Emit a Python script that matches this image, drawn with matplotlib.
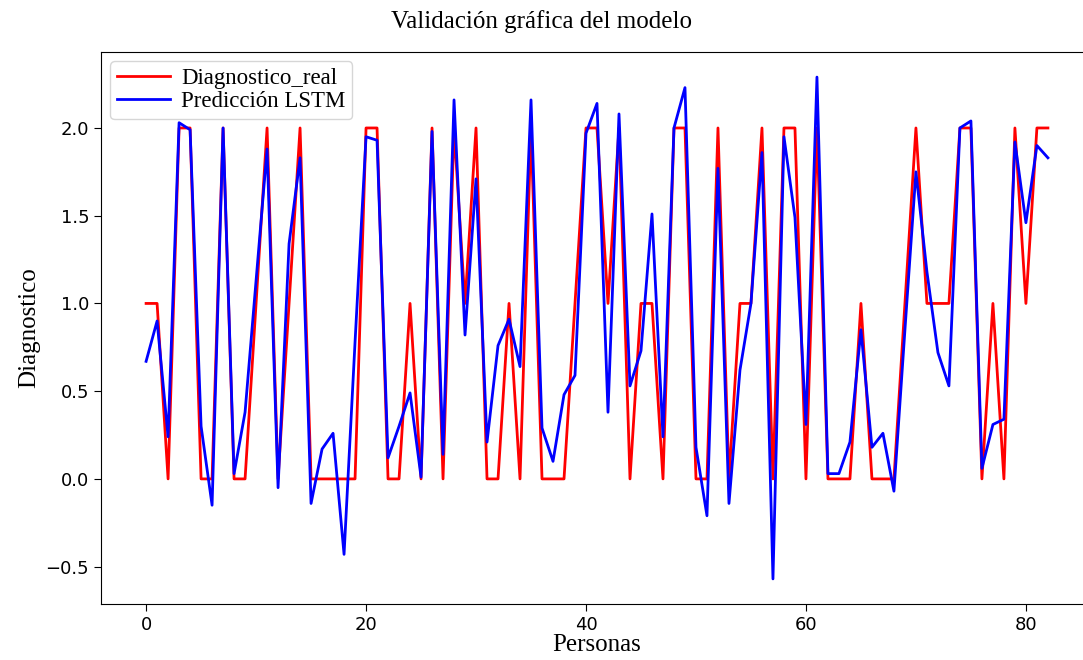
import matplotlib
matplotlib.use("Agg")
import matplotlib.pyplot as plt
import numpy as np

# valores
diagnostico_real = [1, 1, 0, 2, 2, 0, 0, 2, 0, 0,
                    1, 2, 0, 1, 2, 0, 0, 0, 0, 0,
                    2, 2, 0, 0, 1, 0, 2, 0, 2, 1,
                    2, 0, 0, 1, 0, 2, 0, 0, 0, 1,
                    2, 2, 1, 2, 0, 1, 1, 0, 2, 2,
                    0, 0, 2, 0, 1, 1, 2, 0, 2, 2,
                    0, 2, 0, 0, 0, 1, 0, 0, 0, 1,
                    2, 1, 1, 1, 2, 2, 0, 1, 0, 2,
                    1, 2, 2]

prediccion_lstm = [0.67, 0.90, 0.24, 2.03, 1.99, 0.30, -0.15, 2.00, 0.03, 0.38,
                   1.13, 1.88, -0.05, 1.34, 1.83, -0.14, 0.17, 0.26, -0.43, 0.78,
                   1.95, 1.93, 0.12, 0.30, 0.49, 0.01, 1.98, 0.14, 2.16, 0.82,
                   1.71, 0.21, 0.76, 0.91, 0.64, 2.16, 0.29, 0.10, 0.48, 0.59,
                   1.97, 2.14, 0.38, 2.08, 0.53, 0.73, 1.51, 0.24, 2.00, 2.23,
                   0.18, -0.21, 1.77, -0.14, 0.62, 1.00, 1.86, -0.57, 1.95, 1.49,
                   0.31, 2.29, 0.03, 0.03, 0.21, 0.85, 0.18, 0.26, -0.07, 0.85,
                   1.75, 1.18, 0.72, 0.53, 2.00, 2.04, 0.06, 0.31, 0.34, 1.92,
                   1.46, 1.90, 1.83]

personas = np.arange(len(diagnostico_real))

serif = "Liberation Serif"

fig = plt.figure(figsize=(10.83, 6.6), dpi=100)
# el eje derecho queda fuera de la imagen, como en el original recortado
ax = fig.add_axes([101 / 1083, 56 / 660, 992 / 1083, 552 / 660])

ax.plot(personas, diagnostico_real, color="red", lw=2.0, label="Diagnostico_real")
ax.plot(personas, prediccion_lstm, color="blue", lw=2.0, label="Predicción LSTM")

ax.set_yticks([-0.5, 0.0, 0.5, 1.0, 1.5, 2.0])
ax.tick_params(labelsize=13, length=5)

fig.text(0.5, 0.968, "Validación gráfica del modelo", ha="center", va="center",
         family=serif, fontsize=18)
ax.set_xlabel("Personas", family=serif, fontsize=18, labelpad=0)
ax.set_ylabel("Diagnostico", family=serif, fontsize=18, labelpad=4)

leg = ax.legend(loc="upper left", prop={"family": serif, "size": 16.5},
                handlelength=2.3, borderpad=0.3, labelspacing=0.1,
                handletextpad=0.5, borderaxespad=0.4)

fig.savefig("out.png", dpi=100)
